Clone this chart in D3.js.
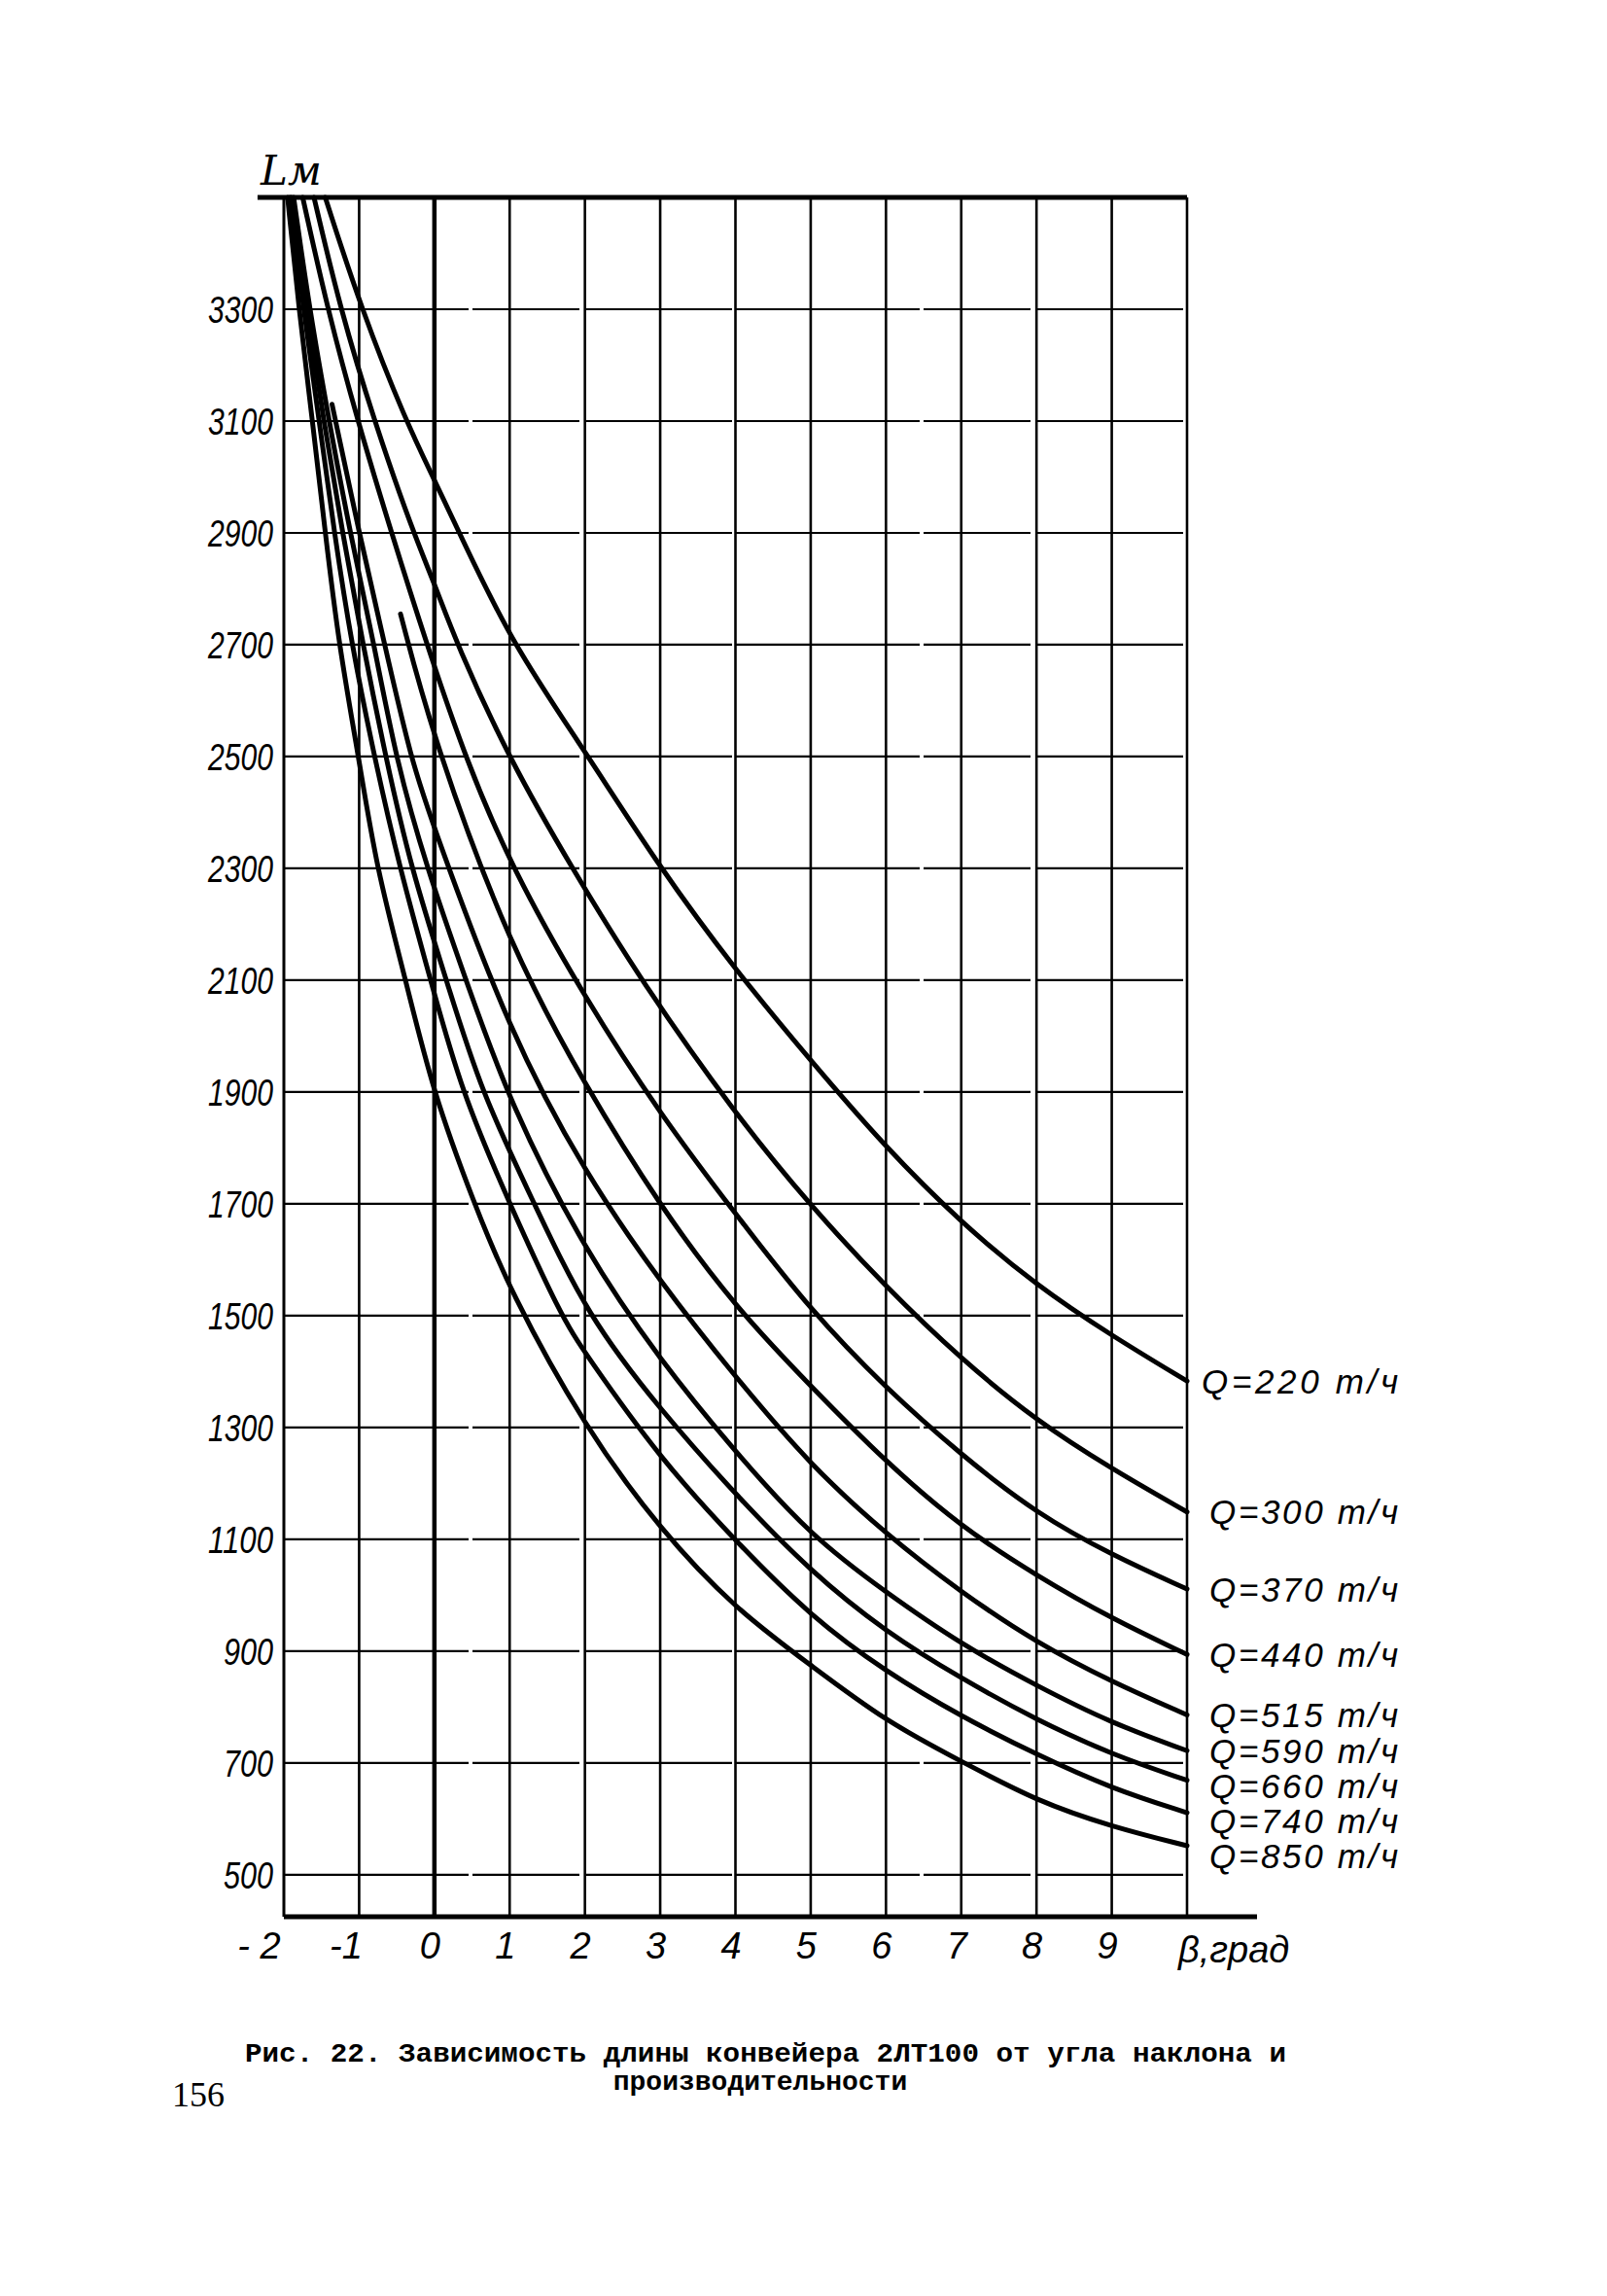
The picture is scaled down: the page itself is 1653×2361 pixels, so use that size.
<!DOCTYPE html>
<html>
<head>
<meta charset="utf-8">
<script src="https://cdn.jsdelivr.net/npm/d3@7"></script>
<style>
  body { margin: 0; background: #fff; }
  .tick text { font-family: "Liberation Sans", sans-serif; font-style: italic; }
</style>
</head>
<body>
<div id="vis"></div>
<script>
// values: [angle, length]
var xTicks = [-2, -1, 0, 1, 2, 3, 4, 5, 6, 7, 8, 9];
var yTicks = [500, 700, 900, 1100, 1300, 1500, 1700, 1900, 2100, 2300, 2500, 2700, 2900, 3100, 3300];
var qLabels = ["Q=220 т/ч", "Q=300 т/ч", "Q=370 т/ч", "Q=440 т/ч", "Q=515 т/ч",
               "Q=590 т/ч", "Q=660 т/ч", "Q=740 т/ч", "Q=850 т/ч"];

var q220 = [[-1.45,3500],[-0.97,3300],[-0.38,3100],[0,2995],[0.33,2900],[1.04,2700],[2,2510],
            [3,2300],[4,2118],[5,1956],[6,1800],[7,1666],[8,1554],[9,1464],[10,1383]];
var q300 = [[-1.6,3500],[-1.25,3300],[-0.8,3100],[-0.28,2900],[0,2810],[0.3,2700],[1,2494],
            [1.83,2300],[2.74,2100],[4,1860],[5,1696],[6,1551],[7,1422],[8,1312],[9,1226],[10,1149]];
var q370 = [[-1.75,3500],[-1.42,3300],[-1.02,3100],[-0.57,2900],[-0.1,2700],[0.42,2494],[1.03,2300],
            [2,2068],[3,1860],[4,1682],[5,1509],[6,1370],[7,1251],[8,1146],[9,1072],[10,1011]];
var q440 = [[-0.45,2755],[0,2525],[1,2160],[2,1912],[3,1695],[4,1515],[5,1374],[6,1238],
            [7,1122],[8,1035],[9,958],[10,894]];
var q515 = [[-1.36,3130],[-1.0,2900],[-0.66,2700],[-0.31,2494],[0,2370],[1,2005],[2,1755],
            [3,1560],[4,1390],[5,1232],[6,1109],[7,1005],[8,915],[9,845],[10,786]];
var q590 = [[-1.87,3500],[-1.66,3300],[-1.4,3100],[-1.12,2900],[-0.8,2700],[-0.51,2494],[-0.1,2300],
            [0.42,2100],[1,1880],[2,1615],[3,1420],[4,1256],[5,1106],[6,1005],[7,912],[8,838],[9,771],[10,722]];
var q660 = [[-1.9,3500],[-1.7,3300],[-1.47,3100],[-1.22,2900],[-0.95,2700],[-0.64,2494],[-0.31,2300],
            [0.16,2100],[0.62,1900],[1.33,1700],[2.03,1500],[3,1332],[4,1180],[5,1042],[6,934],[7,851],
            [8,777],[9,715],[10,669]];
var q740 = [[-1.92,3500],[-1.74,3300],[-1.53,3100],[-1.33,2900],[-1.1,2700],[-0.79,2494],[-0.46,2300],
            [-0.05,2100],[0.36,1900],[1,1700],[1.68,1500],[2,1433],[3,1244],[4,1097],[5,962],[6,863],
            [7,783],[8,715],[9,654],[10,611]];
var q850 = [[-1.95,3500],[-1.8,3300],[-1.62,3100],[-1.45,2900],[-1.27,2700],[-1.0,2494],[-0.77,2300],
            [-0.38,2100],[-0.02,1900],[0.53,1700],[1,1545],[2,1300],[3,1117],[4,975],[5,875],[6,774],
            [7,703],[8,632],[9,586],[10,552]];

var curves = [q220, q300, q370, q440, q515, q590, q660, q740, q850];

var width = 1653, height = 2361;

var x = d3.scaleLinear().domain([-2, 10]).range([292, 1221]);
var y = d3.scaleLinear().domain([425, 3500]).range([1971, 203]);

var svg = d3.select("#vis").append("svg")
    .attr("width", width)
    .attr("height", height)
    .style("background", "#fff");

// vertical grid
svg.append("g").selectAll("line")
    .data(d3.range(-1, 11))
    .enter().append("line")
    .attr("x1", function(d) { return x(d); })
    .attr("x2", function(d) { return x(d); })
    .attr("y1", y(3500))
    .attr("y2", y(425))
    .attr("stroke", "#000")
    .attr("stroke-width", function(d) { return d === 0 ? 4.5 : 2.6; });

// horizontal grid (scan has small breaks in these)
svg.append("g").selectAll("line")
    .data(yTicks)
    .enter().append("line")
    .attr("x1", x(-2))
    .attr("x2", x(10))
    .attr("y1", function(d) { return y(d); })
    .attr("y2", function(d) { return y(d); })
    .attr("stroke", "#000")
    .attr("stroke-width", 2.2)
    .attr("stroke-dasharray", "190,4,110,7,150,3");

// left axis, top line, bottom axis
svg.append("line")
    .attr("x1", x(-2)).attr("x2", x(-2))
    .attr("y1", y(3500)).attr("y2", y(425))
    .attr("stroke", "#000").attr("stroke-width", 3);
svg.append("line")
    .attr("x1", x(-2.35)).attr("x2", x(10))
    .attr("y1", y(3500)).attr("y2", y(3500))
    .attr("stroke", "#000").attr("stroke-width", 5);
svg.append("line")
    .attr("x1", x(-2)).attr("x2", x(10.93))
    .attr("y1", y(425)).attr("y2", y(425))
    .attr("stroke", "#000").attr("stroke-width", 5);

// y labels
var yAxis = d3.axisLeft(y).tickValues(yTicks).tickSize(0).tickPadding(11)
    .tickFormat(d3.format("d"));
var gy = svg.append("g")
    .attr("transform", "translate(" + x(-2) + ",0)")
    .call(yAxis);
gy.select(".domain").remove();
gy.selectAll("text")
    .attr("font-size", 38)
    .attr("fill", "#000")
    .attr("dy", "0.36em")
    .attr("textLength", 67)
    .attr("lengthAdjust", "spacingAndGlyphs");
gy.selectAll("text").filter(function(d) { return d < 1000; })
    .attr("textLength", 51);

// x labels
var xAxis = d3.axisBottom(x).tickValues(xTicks).tickSize(0).tickPadding(16)
    .tickFormat(function(d) { return d === -2 ? "- 2" : (d < 0 ? "-" + (-d) : d); });
var gx = svg.append("g")
    .attr("transform", "translate(0," + y(425) + ")")
    .call(xAxis);
gx.select(".domain").remove();
gx.selectAll("text")
    .attr("font-size", 38)
    .attr("fill", "#000")
    .attr("font-style", "normal")
    .attr("dx", function(d) { return d === -2 ? -26 : (d === -1 ? -14 : -5); });

// curves
var line = d3.line()
    .x(function(d) { return x(d[0]); })
    .y(function(d) { return y(d[1]); })
    .curve(d3.curveBasis);

svg.append("g").selectAll("path")
    .data(curves)
    .enter().append("path")
    .attr("d", line)
    .attr("fill", "none")
    .attr("stroke", "#000")
    .attr("stroke-width", 5)
    .attr("stroke-linecap", "round");

// labels at right end of each curve, pushed apart where they crowd
var labelY = [];
curves.forEach(function(d, i) {
    var py = y(d[d.length - 1][1]);
    if (i > 0 && py < labelY[i - 1] + 36) py = labelY[i - 1] + 36;
    labelY.push(py);
});

svg.append("g").selectAll("text")
    .data(curves)
    .enter().append("text")
    .attr("x", function(d, i) { return i === 0 ? 1236 : 1244; })
    .attr("y", function(d, i) { return labelY[i]; })
    .attr("dy", "0.36em")
    .attr("font-family", "Liberation Sans, sans-serif")
    .attr("font-style", "italic")
    .attr("font-size", 35)
    .attr("textLength", function(d, i) { return i === 0 ? 202 : 194; })
    .attr("lengthAdjust", "spacing")
    .text(function(d, i) { return qLabels[i]; });

// axis titles
svg.append("text")
    .attr("x", 268).attr("y", 190)
    .attr("font-family", "DejaVu Serif, serif")
    .attr("font-style", "italic")
    .attr("font-size", 42)
    .text("Lм");
svg.append("text")
    .attr("x", 1212).attr("y", 2018)
    .attr("font-family", "Liberation Sans, sans-serif")
    .attr("font-style", "italic")
    .attr("font-size", 38)
    .text("β,град");

// caption
svg.append("text")
    .attr("x", 252).attr("y", 2120)
    .attr("font-family", "Liberation Mono, monospace")
    .attr("font-weight", "bold")
    .attr("font-size", 28)
    .attr("textLength", 1071)
    .attr("lengthAdjust", "spacingAndGlyphs")
    .text("Рис. 22. Зависимость длины конвейера 2ЛТ100 от угла наклона и");
svg.append("text")
    .attr("x", 782).attr("y", 2149)
    .attr("text-anchor", "middle")
    .attr("font-family", "Liberation Mono, monospace")
    .attr("font-weight", "bold")
    .attr("font-size", 28)
    .text("производительности");
svg.append("text")
    .attr("x", 177).attr("y", 2166)
    .attr("font-family", "Liberation Serif, serif")
    .attr("font-size", 36)
    .text("156");
</script>
</body>
</html>
